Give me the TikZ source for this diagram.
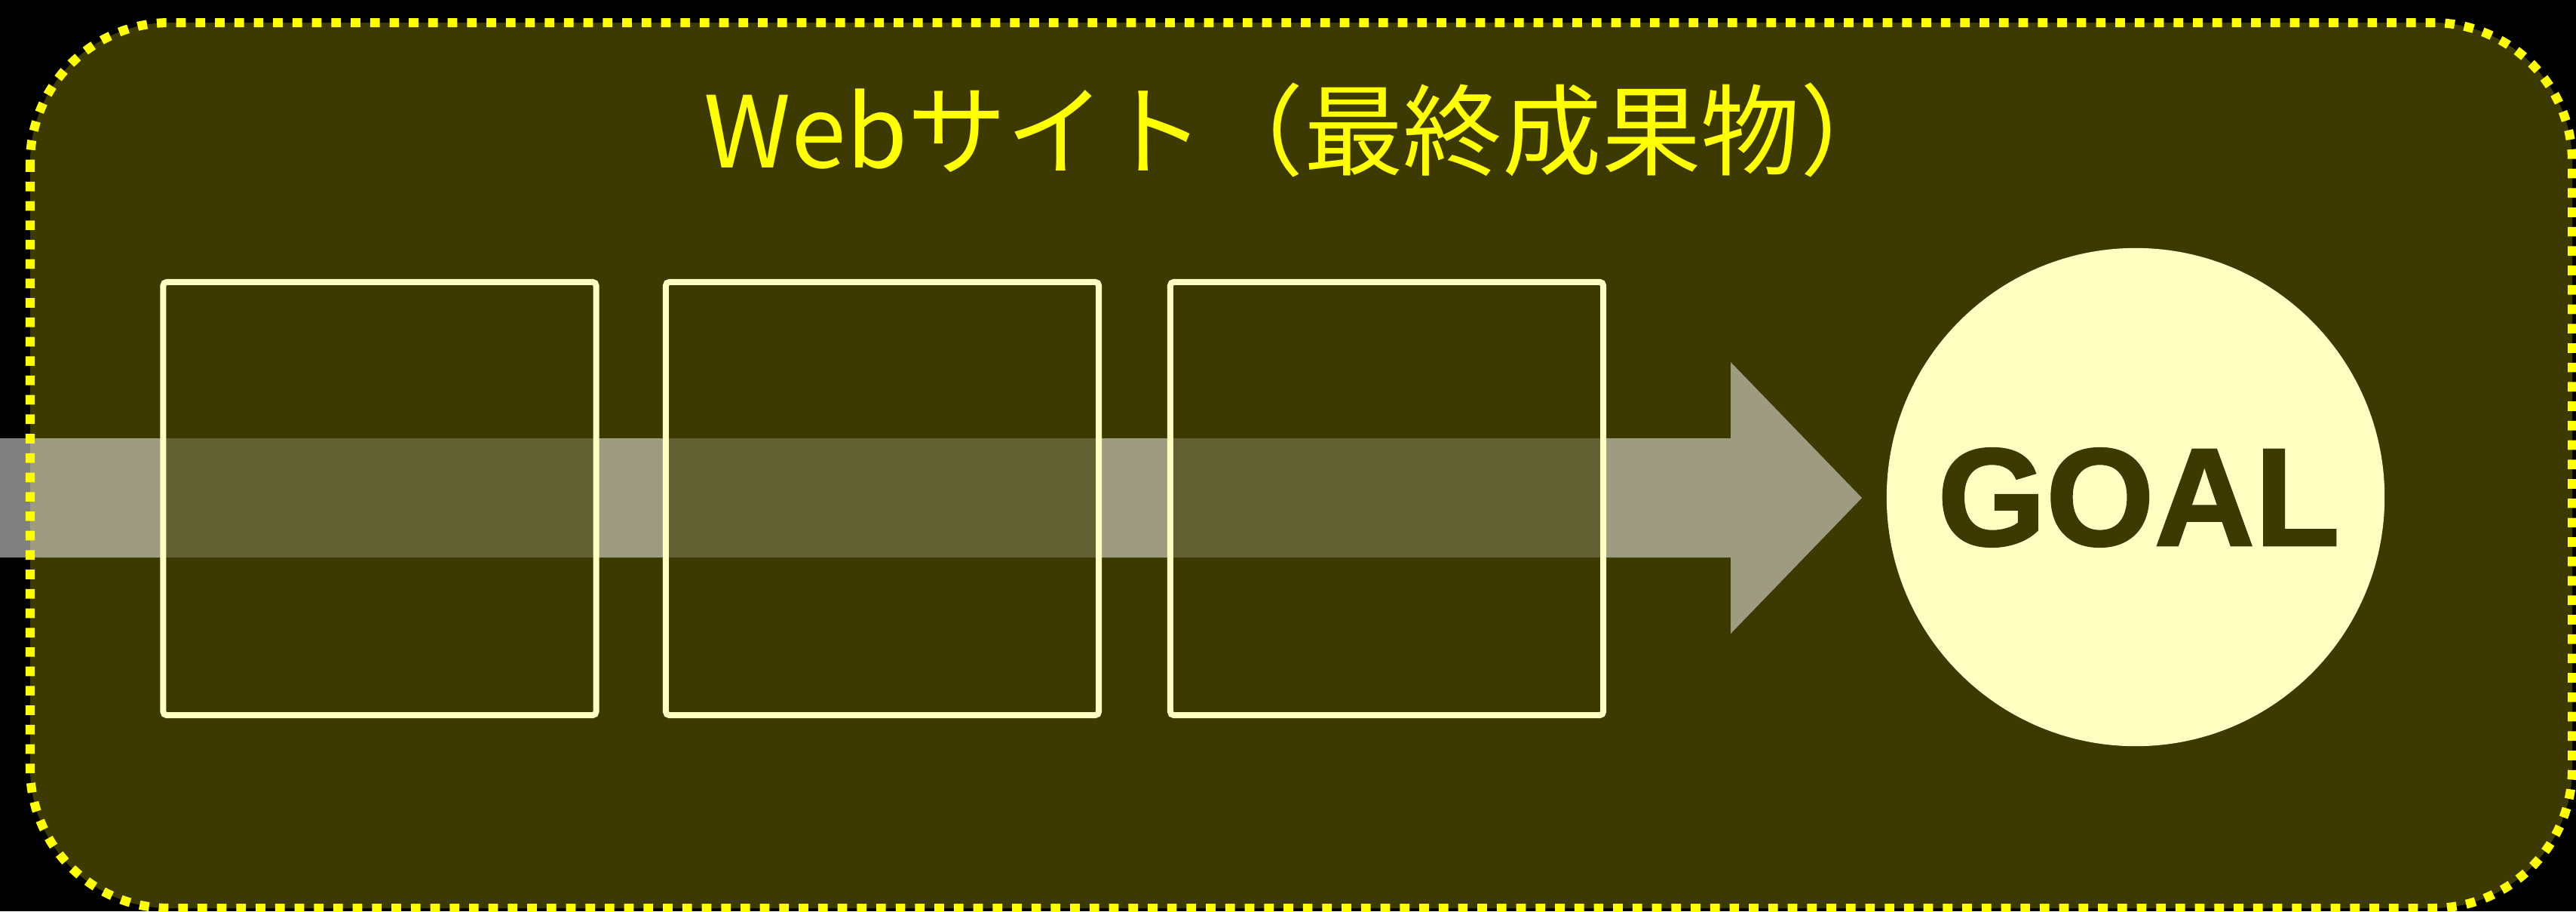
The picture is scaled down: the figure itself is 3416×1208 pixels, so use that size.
\documentclass[tikz,border=0pt]{standalone}
\usepackage{fontspec}
\newfontfamily\jpfont{Noto Sans CJK JP}
\newfontfamily\goalfont[FakeBold=1.4]{Liberation Sans Bold}
\definecolor{olive}{HTML}{3C3A00}
\definecolor{paleyel}{HTML}{FFFFC2}
\definecolor{ttlyel}{HTML}{FFFF00}
\tikzset{
  px/.style={x=0.01cm,y=-0.01cm},
  stagebox/.style={draw=paleyel,line width=0.08cm,fill=olive,fill opacity=0.6,draw opacity=1,
    minimum width=5.74cm,minimum height=5.74cm,rounded corners=0.05cm,inner sep=0pt},
  goalnode/.style={circle,fill=paleyel,minimum size=6.6cm,inner sep=0pt},
  framebox/.style={draw=ttlyel,line width=0.12cm,dash pattern=on 0.127cm off 0.13cm,rounded corners=1.85cm},
}
\begin{document}
\begin{tikzpicture}[px]
\useasboundingbox (0,0) rectangle (3416,1208);
\fill[black] (0,0) rectangle (3416,1208);
% frame fill
\fill[olive,rounded corners=1.85cm] (40,30) rectangle (3411,1204);
% arrow
\fill[white,opacity=0.5] (0,581) -- (2295,581) -- (2295,480) -- (2469,660) -- (2295,840) -- (2295,739) -- (0,739) -- cycle;
% stage boxes
\node[stagebox] (b1) at (503.5,661) {};
\node[stagebox] (b2) at (1170,661) {};
\node[stagebox] (b3) at (1839,661) {};
% goal
\node[goalnode] (goal) at (2832,659) {};
\node[anchor=base,inner sep=0pt,text=olive,font=\goalfont\fontsize{52.5pt}{60pt}\selectfont] (goaltxt) at (2836,723) {GOAL};
% title
\node[anchor=base west,inner sep=0pt,text=ttlyel,font=\jpfont\fontsize{37.4pt}{44pt}\selectfont] (title) at (933,222) {Webサイト（最終成果物）};
% dotted frame
\draw[framebox] (40,30) rectangle (3411,1204);
\end{tikzpicture}
\end{document}
